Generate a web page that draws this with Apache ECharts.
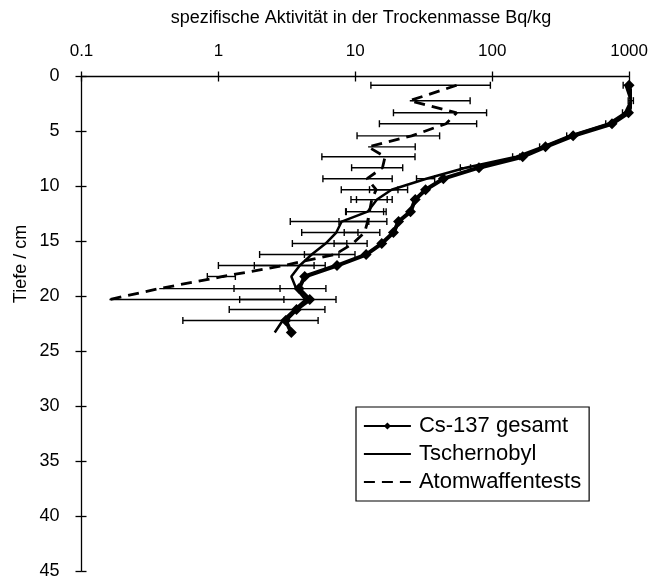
<!DOCTYPE html>
<html>
<head>
<meta charset="utf-8">
<title>Cs-137 Tiefenprofil</title>
<script src="https://cdn.jsdelivr.net/npm/echarts@6/dist/echarts.min.js"></script>
<style>
  html, body { margin: 0; padding: 0; background: #fff; }
  #chart { width: 651px; height: 580px; }
</style>
</head>
<body>
<div id="chart"></div>
<script>
// depth of each layer (cm)
const depths = [0.8, 2.2, 3.3, 4.3, 5.4, 6.4, 7.3, 8.3, 9.3, 10.3, 11.2, 12.3, 13.2, 14.2, 15.2, 16.2, 17.2, 18.2, 19.3, 20.3, 21.2, 22.2, 23.3];

// specific activity, Bq/kg
const gesamt = [1000, 1055, 990, 750, 390, 245, 167, 80, 44, 32.6, 27.4, 25.3, 20.7, 19.0, 15.6, 12.0, 7.35, 4.27, 3.88, 4.65, 3.72, 3.1, 3.41];
const tschernobyl = [945, 1030, 935, 705, 366, 232, 150, 64, 33, 18.4, 14.4, 12.3, 7.95, 7.26, 6.07, 4.8, 3.93, 3.41, 3.7, 4.33, 3.6, 2.95, 2.58];
const atomwaffen = [55, 25, 55, 46, 25.8, 12.4, 16.5, 15.8, 12.2, 14.2, 13.2, 12.7, 12.3, 11.7, 9.6, 7.1, 3.0, 1.08, 0.37, 0.16, null, null, null];

// error (+/-), Bq/kg
const tschernobylErr = [40, 45, 40, 30, 16, 10, 9, 5.5, 5, 5.7, 4.2, 3.8, 4.6, 3.2, 2.6, 2.8, 2.1, 0, 2.4, 2.9, 2.4, 2.4, 0];
const atomwaffenErr = [42, 44, 36, 31, 15.5, 15, 10.8, 6.4, 6.4, 6.3, 3.9, 4.1, 4.7, 3.4, 2.6, 2.85, 2.0, 0.25, 2.45, 2.85, null, null, null];

const xTicks = [0.1, 1, 10, 100, 1000];

const FONT = '"Liberation Sans", Arial, sans-serif';

const toPoints = (vals) => depths
  .map((d, i) => [vals[i], d])
  .filter((p) => p[0] != null);

const toErr = (vals, errs) => depths
  .map((d, i) => [vals[i], errs[i], d])
  .filter((p) => p[0] != null && p[1]);

// horizontal error bar; lower half dropped when it would go below zero (log axis)
const renderErr = (params, api) => {
  const v = api.value(0);
  const e = api.value(1);
  const d = api.value(2);
  const low = v - e;
  const hi = api.coord([v + e, d]);
  const lo = low > 0 ? api.coord([low, d]) : api.coord([v, d]);
  const style = { stroke: '#000', lineWidth: 1.4 };
  const cap = 3.5;
  const children = [
    { type: 'line', shape: { x1: lo[0], y1: lo[1], x2: hi[0], y2: hi[1] }, style },
    { type: 'line', shape: { x1: hi[0], y1: hi[1] - cap, x2: hi[0], y2: hi[1] + cap }, style },
  ];
  if (low > 0) {
    children.push({ type: 'line', shape: { x1: lo[0], y1: lo[1] - cap, x2: lo[0], y2: lo[1] + cap }, style });
  }
  return { type: 'group', children };
};

const chart = echarts.init(document.getElementById('chart'), null, { renderer: 'canvas' });

const logAxis = (extra) => Object.assign({
  type: 'log',
  logBase: 10,
  min: xTicks[0],
  max: xTicks[xTicks.length - 1],
  position: 'top',
  splitLine: { show: false },
  minorTick: { show: false },
}, extra);

const depthAxis = (extra) => Object.assign({
  type: 'value',
  inverse: true,
  min: 0,
  max: 45,
  interval: 5,
  position: 'left',
  splitLine: { show: false },
}, extra);

chart.setOption({
  animation: false,
  backgroundColor: '#fff',
  textStyle: { fontFamily: FONT, color: '#000' },
  title: {
    text: 'spezifische Aktivität in der Trockenmasse Bq/kg',
    left: 356,
    top: 4,
    textAlign: 'center',
    textStyle: { fontFamily: FONT, fontSize: 18, fontWeight: 'normal', color: '#000' },
  },
  graphic: [{
    type: 'text',
    x: 21,
    y: 264,
    rotation: Math.PI / 2,
    style: {
      text: 'Tiefe / cm',
      font: '18px ' + FONT,
      fill: '#000',
      align: 'center',
      verticalAlign: 'middle',
    },
  }],
  grid: { left: 81.5, right: 21, top: 76.5, bottom: 7 },
  xAxis: [
    logAxis({
      axisLine: { lineStyle: { color: '#000', width: 1.3 } },
      axisTick: { length: 5, lineStyle: { color: '#000', width: 1.3 } },
      axisLabel: {
        color: '#000', fontSize: 17, fontFamily: FONT, margin: 17,
        formatter: (v) => String(Number(v.toPrecision(3))),
      },
    }),
    logAxis({
      axisLine: { show: false },
      axisTick: { inside: true, length: 5, lineStyle: { color: '#000', width: 1.3 } },
      axisLabel: { show: false },
    }),
  ],
  yAxis: [
    depthAxis({
      axisLine: { lineStyle: { color: '#000', width: 1.3 } },
      axisTick: { length: 6, lineStyle: { color: '#000', width: 1.3 } },
      axisLabel: { color: '#000', fontSize: 18, fontFamily: FONT, margin: 22 },
    }),
    depthAxis({
      axisLine: { show: false },
      axisTick: { inside: true, length: 5, lineStyle: { color: '#000', width: 1.3 } },
      axisLabel: { show: false },
    }),
  ],
  legend: {
    data: [
      { name: 'Cs-137 gesamt' },
      { name: 'Tschernobyl', itemStyle: { opacity: 0 } },
      { name: 'Atomwaffentests', itemStyle: { opacity: 0 } },
    ],
    orient: 'vertical',
    left: 356,
    top: 407,
    padding: [8, 8, 8, 7],
    itemGap: 6,
    itemWidth: 47,
    itemHeight: 9,
    borderColor: '#000',
    borderWidth: 1.2,
    borderRadius: 0,
    lineStyle: { width: 1.8 },
    textStyle: { fontFamily: FONT, fontSize: 22, color: '#000', padding: [0, 0, 0, 3] },
  },
  series: [
    {
      name: 'err-atom',
      type: 'custom',
      renderItem: renderErr,
      data: toErr(atomwaffen, atomwaffenErr),
      encode: { x: 0, y: 2 },
      z: 1,
      silent: true,
    },
    {
      name: 'err-tsch',
      type: 'custom',
      renderItem: renderErr,
      data: toErr(tschernobyl, tschernobylErr),
      encode: { x: 0, y: 2 },
      z: 1,
      silent: true,
    },
    {
      name: 'Atomwaffentests',
      type: 'line',
      data: toPoints(atomwaffen),
      symbol: 'none',
      color: '#000',
      lineStyle: { color: '#000', width: 2.8, type: [11, 7] },
      z: 2,
    },
    {
      name: 'Tschernobyl',
      type: 'line',
      data: toPoints(tschernobyl),
      symbol: 'none',
      color: '#000',
      lineStyle: { color: '#000', width: 2.5 },
      z: 3,
    },
    {
      name: 'Cs-137 gesamt',
      type: 'line',
      data: toPoints(gesamt),
      symbol: 'diamond',
      symbolSize: 11,
      color: '#000',
      itemStyle: { color: '#000' },
      lineStyle: { color: '#000', width: 4 },
      z: 4,
    },
  ],
});
</script>
</body>
</html>
